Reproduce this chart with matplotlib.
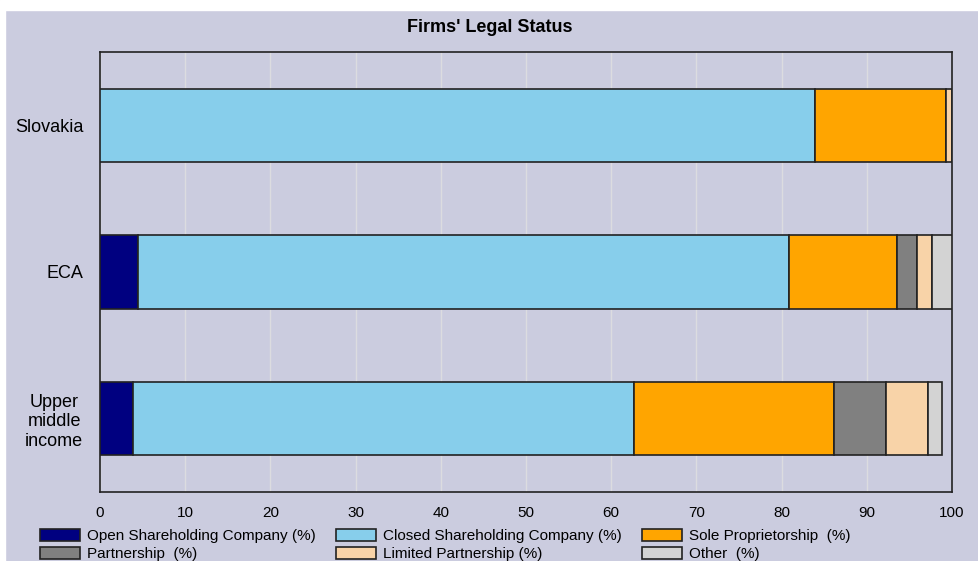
import matplotlib.pyplot as plt
import matplotlib.patches as mpatches
import numpy as np

# ----------------------------
# Data
# ----------------------------
countries = ["Slovakia", "ECA", "Upper\nmiddle\nincome"]
series_names = [
    "Open Shareholding Company (%)",
    "Closed Shareholding Company (%)",
    "Sole Proprietorship  (%)",
    "Partnership  (%)",
    "Limited Partnership (%)",
    "Other  (%)",
]
open_sh = [0.0, 4.5, 3.9]
closed_sh = [83.9, 76.4, 58.8]
sole_prop = [15.4, 12.6, 23.4]
partnership = [0.0, 2.4, 6.2]
limited_part = [0.7, 1.7, 4.9]
other = [0.0, 2.4, 1.6]

colors = ["#000080", "#87CEEB", "#FFA500", "#808080", "#F8D3A8", "#D3D3D3"]
bg = "#CBCCDF"

plt.rcParams["font.family"] = ["Liberation Sans Narrow", "Liberation Sans", "DejaVu Sans"]

fig = plt.figure(figsize=(9.79, 5.61), dpi=100, facecolor=bg)
# white margins at top and left
fig.patches.append(mpatches.Rectangle((0, 1 - 10 / 561), 1, 10 / 561,
                                      transform=fig.transFigure, color="white", zorder=0))
fig.patches.append(mpatches.Rectangle((0, 0), 5 / 979, 1,
                                      transform=fig.transFigure, color="white", zorder=0))

ax = fig.add_axes([100 / 979, (561 - 492) / 561, (952 - 100) / 979, (492 - 52) / 561])
ax.set_facecolor(bg)

values = [open_sh, closed_sh, sole_prop, partnership, limited_part, other]
y = np.arange(len(countries))
left = np.zeros(len(countries))
handles = []
for name, vals, c in zip(series_names, values, colors):
    vals = np.array(vals)
    ax.barh(y, vals, left=left, height=0.5, color=c, edgecolor="#222222",
            linewidth=1.2, zorder=3)
    handles.append(mpatches.Patch(facecolor=c, edgecolor="#222222", linewidth=1.2, label=name))
    left += vals

ax.set_xlim(0, 100)
ax.set_ylim(2.5, -0.5)
ax.set_xticks(range(0, 101, 10))
ax.set_yticks(y)
ax.set_yticklabels(countries, fontsize=13, multialignment="center")
ax.tick_params(axis="x", labelsize=11, length=0, pad=10)
ax.tick_params(axis="y", length=0, pad=12)
ax.grid(axis="x", color="#DCDCE0", linewidth=1, zorder=0)
for s in ax.spines.values():
    s.set_color("#222222")
    s.set_linewidth(1.2)

fig.text(0.5, 1 - 28 / 561, "Firms' Legal Status", ha="center", va="center",
         fontsize=13, fontweight="bold")

order = [0, 3, 1, 4, 2, 5]
fig.legend([handles[i] for i in order], [series_names[i] for i in order],
           ncol=3, loc="upper left", bbox_to_anchor=(40 / 979, 1 - 529 / 561),
           frameon=False, fontsize=11, handlelength=2.6, handleheight=0.8,
           handletextpad=0.5, columnspacing=1.3, labelspacing=0.25,
           borderaxespad=0, borderpad=0)

fig.savefig("out.png", dpi=100, facecolor=fig.get_facecolor())
